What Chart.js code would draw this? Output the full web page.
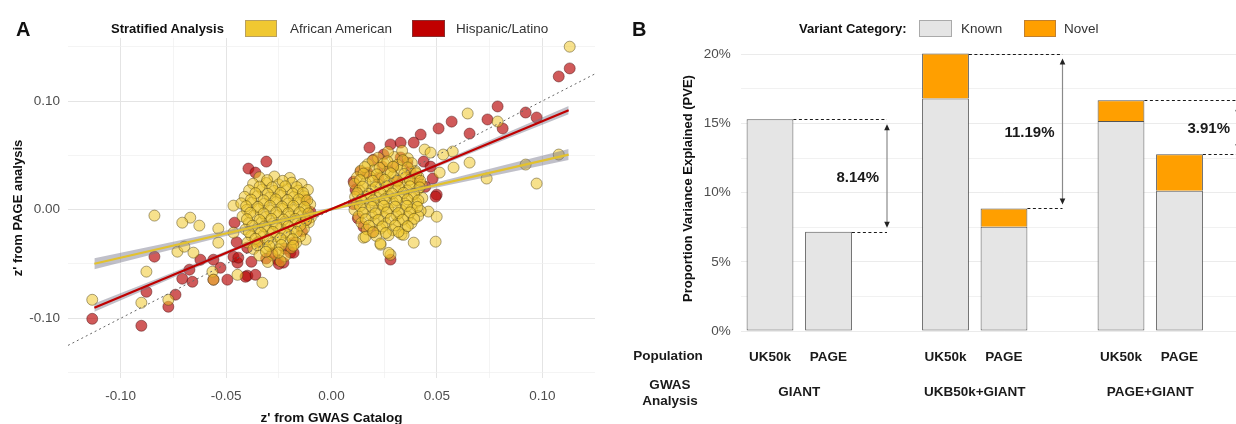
<!DOCTYPE html>
<html><head><meta charset="utf-8">
<script src="https://cdn.jsdelivr.net/npm/chart.js@4.4.1/dist/chart.umd.min.js"></script>
<style>
html,body{margin:0;padding:0;background:#fff;}
#wrap{position:relative;width:1236px;height:424px;overflow:hidden;font-family:'Liberation Sans',Arial,sans-serif;}
canvas{position:absolute;top:0;}
.t{position:absolute;white-space:nowrap;line-height:17px;font-size:13.5px;color:#333;}
.b{font-weight:bold;color:#111;}
.box{position:absolute;height:17px;box-sizing:border-box;}
</style></head><body>
<div id="wrap">
<canvas id="ca" width="618" height="432" style="left:0"></canvas>
<canvas id="cb" width="660" height="424" style="left:618px"></canvas>
<div class="t b" style="left:16px;top:18px;font-size:20px;line-height:22px">A</div>
<div class="t b" style="left:111px;top:20px;font-size:13px">Stratified Analysis</div>
<div class="box" style="left:245px;top:20px;width:32px;background:#f0c832;border:1px solid #b8a060"></div>
<div class="t" style="left:290px;top:20px">African American</div>
<div class="box" style="left:412px;top:20px;width:33px;background:#c00000;border:1px solid #8a3030"></div>
<div class="t" style="left:456px;top:20px">Hispanic/Latino</div>
<div class="t b" style="left:632px;top:18px;font-size:20px;line-height:22px">B</div>
<div class="t b" style="left:799px;top:20px;font-size:13px">Variant Category:</div>
<div class="box" style="left:919px;top:20px;width:33px;background:#e5e5e5;border:1px solid #aaa"></div>
<div class="t" style="left:961px;top:20px">Known</div>
<div class="box" style="left:1024px;top:20px;width:32px;background:#ff9f00;border:1px solid #c08030"></div>
<div class="t" style="left:1064px;top:20px">Novel</div>
</div>
<script>
// ---------- Panel A data ----------
const aaPoints = [
 [0.113,0.150],[0.0646,0.0885],[0.0788,0.0811],[0.1078,0.0507],[0.0921,0.0415],[0.0973,0.024],[0.0736,0.0286],[0.0655,0.0433],[0.0579,0.0387],[0.0442,0.0553],[0.0513,0.0341],[0.0575,0.0535],[0.053,0.0507],[0.047,0.0525],[0.046,-0.0018],[0.0499,-0.0065],[0.0494,-0.0295],[0.039,-0.0304],[0.028,-0.0415],[0.0233,-0.0323],[0.0152,-0.0258],
 [-0.084,-0.0055],[-0.067,-0.0074],[-0.0627,-0.0147],[-0.0708,-0.012],[-0.0537,-0.0175],[-0.0878,-0.0571],[-0.0731,-0.0387],[-0.0698,-0.0341],[-0.0655,-0.0396],[-0.0774,-0.083],[-0.0902,-0.0857],[-0.1135,-0.083],[-0.0565,-0.0571],[-0.056,-0.0645],[-0.0465,-0.0212],[-0.0465,0.0037],[-0.0328,-0.0673],[-0.0446,-0.06],[-0.0123,-0.0276],[-0.0537,-0.0304],
 [0.0221,0.0478],[0.0298,0.0485],[0.0362,0.0472],[0.0268,0.0532],[0.0335,0.0541],
 [0.0172,0.0418],[0.0248,0.0425],[0.0313,0.0412],[0.0381,0.0428],
 [0.0138,0.0358],[0.0203,0.0365],[0.0268,0.0352],[0.0331,0.0368],[0.0398,0.0355],
 [0.0121,0.0298],[0.0182,0.0305],[0.0239,0.0292],[0.0292,0.0308],[0.0352,0.0295],[0.0412,0.0302],
 [0.0108,0.0238],[0.0162,0.0245],[0.0221,0.0232],[0.0273,0.0248],[0.0329,0.0235],[0.0381,0.0242],[0.0428,0.0228],
 [0.0131,0.0178],[0.0192,0.0185],[0.0248,0.0172],[0.0302,0.0188],[0.0358,0.0175],[0.0409,0.0182],
 [0.0112,0.0118],[0.0163,0.0125],[0.0214,0.0112],[0.0271,0.0128],[0.0322,0.0115],[0.0379,0.0122],[0.0431,0.0108],
 [0.0122,0.0058],[0.0183,0.0065],[0.0238,0.0052],[0.0291,0.0068],[0.0349,0.0055],[0.0402,0.0062],
 [0.0109,-0.0002],[0.0161,0.0005],[0.0222,-0.0008],[0.0268,0.0008],[0.0331,-0.0005],[0.0382,0.0002],[0.0423,-0.0012],
 [0.0128,-0.0062],[0.0191,-0.0055],[0.0249,-0.0068],[0.0308,-0.0052],[0.0362,-0.0065],[0.0411,-0.0058],
 [0.0142,-0.0122],[0.0201,-0.0115],[0.0259,-0.0128],[0.0318,-0.0112],[0.0379,-0.0125],
 [0.0168,-0.0182],[0.0232,-0.0175],[0.0291,-0.0188],[0.0349,-0.0172],
 [0.0212,-0.0242],[0.0271,-0.0235],[0.0332,-0.0228],
 [0.0161,-0.0251],[0.0232,-0.0312],[0.0271,-0.0398],[0.0342,-0.0232],
 [0.0195,0.0452],[0.0265,0.0445],[0.0338,0.0455],
 [0.0158,0.0392],[0.0228,0.0385],[0.0292,0.0395],[0.0361,0.0388],
 [0.0152,0.0332],[0.0215,0.0325],[0.0281,0.0335],[0.0345,0.0328],[0.0402,0.0335],
 [0.0135,0.0272],[0.0195,0.0265],[0.0252,0.0275],[0.0312,0.0268],[0.0371,0.0275],[0.0421,0.0265],
 [0.0148,0.0212],[0.0209,0.0205],[0.0262,0.0215],[0.0318,0.0208],[0.0372,0.0215],[0.0418,0.0205],
 [0.0122,0.0152],[0.0178,0.0145],[0.0232,0.0155],[0.0288,0.0148],[0.0342,0.0155],[0.0392,0.0145],
 [0.0141,0.0092],[0.0198,0.0085],[0.0252,0.0095],[0.0308,0.0088],[0.0361,0.0095],[0.0412,0.0085],
 [0.0135,0.0032],[0.0192,0.0025],[0.0248,0.0035],[0.0302,0.0028],[0.0358,0.0035],[0.0408,0.0025],
 [0.0148,-0.0028],[0.0208,-0.0035],[0.0262,-0.0025],[0.0318,-0.0032],[0.0372,-0.0025],
 [0.0162,-0.0088],[0.0222,-0.0095],[0.0281,-0.0085],[0.0338,-0.0092],[0.0392,-0.0085],
 [0.0178,-0.0148],[0.0242,-0.0155],[0.0302,-0.0145],[0.0362,-0.0152],
 [0.0198,-0.0208],[0.0258,-0.0215],[0.0318,-0.0205],
 [-0.0342,0.0298],[-0.0271,0.0305],[-0.0198,0.0292],
 [-0.0372,0.0238],[-0.0309,0.0245],[-0.0251,0.0232],[-0.0188,0.0248],[-0.0142,0.0235],
 [-0.0391,0.0178],[-0.0329,0.0185],[-0.0272,0.0172],[-0.0211,0.0188],[-0.0158,0.0175],[-0.0112,0.0182],
 [-0.0412,0.0118],[-0.0352,0.0125],[-0.0291,0.0112],[-0.0238,0.0128],[-0.0181,0.0115],[-0.0129,0.0122],
 [-0.0428,0.0058],[-0.0378,0.0065],[-0.0321,0.0052],[-0.0262,0.0068],[-0.0208,0.0055],[-0.0152,0.0062],[-0.0101,0.0048],
 [-0.0402,-0.0002],[-0.0348,0.0005],[-0.0291,-0.0008],[-0.0232,0.0008],[-0.0179,-0.0005],[-0.0122,0.0002],
 [-0.0422,-0.0062],[-0.0368,-0.0055],[-0.0311,-0.0068],[-0.0252,-0.0052],[-0.0198,-0.0065],[-0.0141,-0.0058],[-0.0098,-0.0071],
 [-0.0392,-0.0122],[-0.0331,-0.0115],[-0.0279,-0.0128],[-0.0221,-0.0112],[-0.0162,-0.0125],[-0.0108,-0.0118],
 [-0.0408,-0.0182],[-0.0352,-0.0175],[-0.0298,-0.0188],[-0.0241,-0.0172],[-0.0181,-0.0185],[-0.0131,-0.0178],
 [-0.0381,-0.0242],[-0.0322,-0.0235],[-0.0262,-0.0248],[-0.0202,-0.0232],[-0.0149,-0.0245],
 [-0.0398,-0.0302],[-0.0342,-0.0295],[-0.0281,-0.0308],[-0.0222,-0.0292],[-0.0168,-0.0305],
 [-0.0371,-0.0362],[-0.0312,-0.0355],[-0.0252,-0.0368],[-0.0191,-0.0352],
 [-0.0342,-0.0422],[-0.0281,-0.0415],[-0.0221,-0.0428],
 [-0.0302,-0.0482],[-0.0241,-0.0475],
 [-0.0305,0.0272],[-0.0232,0.0265],
 [-0.0341,0.0212],[-0.0281,0.0205],[-0.0219,0.0215],[-0.0165,0.0208],
 [-0.0361,0.0152],[-0.0302,0.0145],[-0.0242,0.0155],[-0.0184,0.0148],[-0.0135,0.0155],
 [-0.0382,0.0092],[-0.0322,0.0085],[-0.0265,0.0095],[-0.0209,0.0088],[-0.0155,0.0095],[-0.0115,0.0085],
 [-0.0405,0.0032],[-0.0349,0.0025],[-0.0292,0.0035],[-0.0235,0.0028],[-0.0181,0.0035],[-0.0128,0.0025],
 [-0.0385,-0.0028],[-0.0322,-0.0035],[-0.0262,-0.0025],[-0.0205,-0.0032],[-0.0151,-0.0025],[-0.0109,-0.0035],
 [-0.0401,-0.0088],[-0.0341,-0.0095],[-0.0285,-0.0085],[-0.0228,-0.0092],[-0.0172,-0.0085],[-0.0121,-0.0095],
 [-0.0375,-0.0148],[-0.0318,-0.0155],[-0.0262,-0.0145],[-0.0205,-0.0152],[-0.0148,-0.0145],
 [-0.0392,-0.0208],[-0.0335,-0.0215],[-0.0278,-0.0205],[-0.0222,-0.0212],[-0.0165,-0.0205],
 [-0.0361,-0.0268],[-0.0302,-0.0275],[-0.0242,-0.0265],[-0.0185,-0.0272],
 [-0.0352,-0.0328],[-0.0295,-0.0335],[-0.0238,-0.0325],[-0.0181,-0.0332],
 [-0.0311,-0.0388],[-0.0252,-0.0395]
];
const hlPoints = [
 [0.113,0.130],[0.1078,0.1226],[0.0788,0.095],[0.057,0.081],[0.0508,0.0747],[0.074,0.083],[0.0812,0.0747],[0.0655,0.070],[0.0921,0.0894],[0.0973,0.0848],[0.0423,0.0691],[0.018,0.0571],[0.048,0.0286],[0.0499,0.0138],[0.028,-0.046],
 [0.028,0.060],[0.0328,0.0617],[0.039,0.0617],[0.0247,0.0507],[0.020,0.046],[0.0138,0.035],[0.0105,0.0258],[0.0114,0.0184],[0.0328,0.048],[0.036,0.0433],[0.0242,0.0396],[0.0437,0.0442],[0.047,0.0396],[0.0494,0.012],[0.0152,-0.0157],[0.0195,-0.0203],[0.0171,0.0341],[0.0223,0.0295],[0.0294,0.0396],[0.0375,0.035],[0.0313,0.0258],[0.0408,0.0276],[0.0105,0.005],[0.0125,-0.008],[0.0445,0.021],
 [-0.084,-0.0433],[-0.0878,-0.0756],[-0.0774,-0.0894],[-0.1135,-0.1005],[-0.0902,-0.1069],[-0.074,-0.0783],[-0.0674,-0.0553],[-0.0708,-0.0636],[-0.066,-0.0664],[-0.0494,-0.0645],[-0.0399,-0.0608],[-0.0361,-0.06],[-0.0446,-0.0488],[-0.0465,-0.0433],[-0.056,-0.0461],[-0.0527,-0.0535],[-0.0256,-0.0461],[-0.0228,-0.0488],[-0.0195,-0.0396],[-0.0622,-0.0461],[-0.0309,0.0442],[-0.0394,0.0378],[-0.0361,0.0341],[-0.0123,0.0092],[-0.018,-0.0396],[-0.0408,-0.0618],[-0.056,-0.0645],[-0.0442,-0.0442],
 [-0.018,-0.030],[-0.022,-0.036],[-0.028,-0.040],[-0.014,-0.020],[-0.012,-0.010],[-0.035,-0.030],[-0.040,-0.035],[-0.045,-0.030],[-0.031,-0.045],[-0.025,-0.050],[-0.038,-0.048],[-0.010,-0.002],[-0.046,-0.012]
];
const fitX = [-0.1125, 0.1125];
const aaFitY = [-0.0498, 0.0507];
const hlFitY = [-0.0903, 0.0915];
const bandX = [-0.1125, -0.05, 0, 0.05, 0.1125];
const aaBandLo = [-0.0548, -0.0243, -0.0010, 0.0203, 0.0457];
const aaBandHi = [-0.0448, -0.0193, 0.0020, 0.0253, 0.0557];
const hlBandLo = [-0.0941, -0.0416, -0.0004, 0.0392, 0.0877];
const hlBandHi = [-0.0865, -0.0380, 0.0016, 0.0428, 0.0953];
const identX = [-0.125, 0.125];
const xTickVals = [-0.10, -0.05, 0.00, 0.05, 0.10];
const yTickVals = [-0.10, 0.00, 0.10];

// ---------- Panel B data ----------
const popLabels = ['UK50k','PAGE','','UK50k','PAGE','','UK50k','PAGE',''];
const groupNames = ['GIANT','UKB50k+GIANT','PAGE+GIANT'];
const knownPVE = [15.31, 7.17, null, 16.80, 7.53, null, 15.18, 10.13, null];
const novelPVE = [null, null, null, 3.25, 1.33, null, 1.50, 2.64, null];
const diffLabels = ['8.14%','11.19%','3.91%'];

const FONT = "'Liberation Sans', Arial, sans-serif";
Chart.defaults.font.family = FONT;

const pts = a => a.map(p => ({x: p[0], y: p[1]}));
const zip = (xs, ys) => xs.map((x, i) => ({x, y: ys[i]}));
const near = (v, step) => Math.abs(v/step - Math.round(v/step)) < 1e-6;
const inList = (v, list) => list.some(t => Math.abs(t - v) < 1e-6);
const fmt = v => Math.abs(v) < 1e-9 ? '0.00' : v.toFixed(2);

new Chart(document.getElementById('ca'), {
  type: 'scatter',
  data: { datasets: [
    {type:'line', data: zip(fitX, hlFitY), borderColor:'#c00000', borderWidth:2.2, pointRadius:0, fill:false, order:0},
    {type:'line', data: zip(fitX, aaFitY), borderColor:'#e3c22e', borderWidth:2.2, pointRadius:0, fill:false, order:1},
    {type:'line', data: zip(bandX, hlBandLo), borderWidth:0, pointRadius:0, fill:false, cubicInterpolationMode:'monotone', order:2},
    {type:'line', data: zip(bandX, hlBandHi), borderWidth:0, pointRadius:0, fill:'-1', backgroundColor:'rgba(115,115,135,0.45)', cubicInterpolationMode:'monotone', order:2},
    {type:'line', data: zip(bandX, aaBandLo), borderWidth:0, pointRadius:0, fill:false, cubicInterpolationMode:'monotone', order:3},
    {type:'line', data: zip(bandX, aaBandHi), borderWidth:0, pointRadius:0, fill:'-1', backgroundColor:'rgba(115,115,135,0.45)', cubicInterpolationMode:'monotone', order:3},
    {type:'line', data: zip(identX, identX), borderColor:'#666', borderWidth:1, borderDash:[2,3], pointRadius:0, fill:false, order:4},
    {label:'African American', data: pts(aaPoints), backgroundColor:'rgba(240,200,45,0.55)', borderColor:'rgba(80,65,20,0.55)', borderWidth:0.9, pointRadius:5.5, order:5},
    {label:'Hispanic/Latino', data: pts(hlPoints), backgroundColor:'rgba(185,12,12,0.68)', borderColor:'rgba(80,20,20,0.55)', borderWidth:0.9, pointRadius:5.5, order:6}
  ]},
  options: {
    responsive:false, animation:false, events:[],
    layout:{padding:{top:38, right:23, left:0, bottom:0}},
    plugins:{legend:{display:false}, tooltip:{enabled:false}},
    scales:{
      x:{type:'linear', min:-0.125, max:0.125,
        afterFit: s => { s.height = 54; },
        border:{display:false},
        grid:{drawTicks:false,
          color: c => (Math.abs(c.tick.value) > 0.12 ? 'rgba(0,0,0,0)' : (inList(c.tick.value, xTickVals) ? '#e4e4e4' : '#efefef')),
          lineWidth: c => inList(c.tick.value, xTickVals) ? 1 : 0.7},
        ticks:{stepSize:0.025, includeBounds:false, autoSkip:false, maxRotation:0, padding:10, color:'#4d4d4d', font:{size:13.5},
          callback: v => inList(v, xTickVals) ? fmt(v) : ''},
        title:{display:true, text:"z' from GWAS Catalog", color:'#111', font:{size:13.5, weight:'bold'}, padding:{top:0,bottom:6}}
      },
      y:{type:'linear', min:-0.155, max:0.158,
        afterFit: s => { s.width = 68; },
        border:{display:false},
        grid:{drawTicks:false,
          color: c => inList(c.tick.value, yTickVals) ? '#e4e4e4' : '#efefef',
          lineWidth: c => inList(c.tick.value, yTickVals) ? 1 : 0.7},
        ticks:{stepSize:0.05, includeBounds:false, autoSkip:false, padding:8, color:'#4d4d4d', font:{size:13.5},
          callback: v => inList(v, yTickVals) ? fmt(v) : ''},
        title:{display:true, text:"z' from PAGE analysis", color:'#111', font:{size:13, weight:'bold'}, padding:{top:11,bottom:0}}
      }
    }
  }
});

const pvePlugin = {
  id: 'pveAnnot',
  afterDraw(chart) {
    const ctx = chart.ctx;
    const xs = chart.scales.x, ys = chart.scales.y;
    const meta = chart.getDatasetMeta(0);
    ctx.save();
    for (let g = 0; g < groupNames.length; g++) {
      const iA = g*3, iB = g*3+1, iG = g*3+2;
      const tA = (knownPVE[iA]||0) + (novelPVE[iA]||0);
      const tB = (knownPVE[iB]||0) + (novelPVE[iB]||0);
      const xg = xs.getPixelForValue(iG);
      const yA = ys.getPixelForValue(tA), yB = ys.getPixelForValue(tB);
      const hw = meta.data[iA].width / 2;
      const rA = xs.getPixelForValue(iA) + hw, rB = xs.getPixelForValue(iB) + hw;
      ctx.strokeStyle = '#1a1a1a'; ctx.lineWidth = 1; ctx.setLineDash([3, 2.5]);
      ctx.beginPath();
      ctx.moveTo(rA, Math.round(yA)+0.5); ctx.lineTo(xg, Math.round(yA)+0.5);
      ctx.moveTo(rB, Math.round(yB)+0.5); ctx.lineTo(xg, Math.round(yB)+0.5);
      ctx.stroke();
      ctx.setLineDash([]);
      const a1 = yA + 5, a2 = yB - 4;
      ctx.strokeStyle = '#8a8a8a'; ctx.lineWidth = 1.2;
      ctx.beginPath(); ctx.moveTo(xg, a1 + 4); ctx.lineTo(xg, a2 - 4); ctx.stroke();
      ctx.fillStyle = '#222';
      ctx.beginPath(); ctx.moveTo(xg, a1); ctx.lineTo(xg - 2.8, a1 + 6); ctx.lineTo(xg + 2.8, a1 + 6); ctx.closePath(); ctx.fill();
      ctx.beginPath(); ctx.moveTo(xg, a2); ctx.lineTo(xg - 2.8, a2 - 6); ctx.lineTo(xg + 2.8, a2 - 6); ctx.closePath(); ctx.fill();
      ctx.fillStyle = '#1a1a1a';
      ctx.font = 'bold 15px ' + FONT; ctx.textAlign = 'right'; ctx.textBaseline = 'middle';
      ctx.fillText(diffLabels[g], xg - 8, (yA + yB) / 2 + 2);
      ctx.font = 'bold 13.5px ' + FONT; ctx.textAlign = 'center';
      ctx.fillText(groupNames[g], (xs.getPixelForValue(iA) + xs.getPixelForValue(iB)) / 2, 392);
    }
    ctx.font = 'bold 13.5px ' + FONT; ctx.textAlign = 'center'; ctx.textBaseline = 'middle'; ctx.fillStyle = '#1a1a1a';
    ctx.fillText('Population', 50, 356);
    ctx.fillText('GWAS', 52, 385);
    ctx.fillText('Analysis', 52, 401);
    ctx.restore();
  }
};

new Chart(document.getElementById('cb'), {
  type: 'bar',
  data: { labels: popLabels, datasets: [
    {label:'Known', data: knownPVE, backgroundColor:'#e5e5e5', borderColor:'#555', borderWidth:1, borderSkipped:false, stack:'s'},
    {label:'Novel', data: novelPVE, backgroundColor:'#ff9f00', borderColor:'#555', borderWidth:1, borderSkipped:'start', stack:'s'}
  ]},
  options: {
    responsive:false, animation:false, events:[],
    layout:{padding:{top:46, right:10.75, left:0, bottom:0}},
    datasets:{bar:{barPercentage:1, categoryPercentage:0.8}},
    plugins:{legend:{display:false}, tooltip:{enabled:false}},
    scales:{
      x:{type:'category', stacked:true, offset:true,
        afterFit: s => { s.height = 93; },
        border:{display:false}, grid:{display:false},
        ticks:{autoSkip:false, maxRotation:0, padding:10, color:'#1a1a1a', font:{size:13.5, weight:'bold'}}
      },
      y:{stacked:true, min:0, max:20.6,
        afterFit: s => { s.width = 122.75; },
        border:{display:false},
        grid:{drawTicks:false, color: c => near(c.tick.value, 2.5) ? '#ebebeb' : 'rgba(0,0,0,0)', lineWidth: c => near(c.tick.value, 5) ? 1 : 0.7},
        ticks:{stepSize:2.5, includeBounds:false, autoSkip:false, padding:10, color:'#4d4d4d', font:{size:13.5},
          callback: v => near(v, 5) ? Math.round(v) + '%' : ''},
        title:{display:true, text:'Proportion Variance Explained (PVE)', color:'#111', font:{size:13, weight:'bold'}, padding:{top:63,bottom:0}}
      }
    }
  },
  plugins:[pvePlugin]
});
</script>
</body></html>
